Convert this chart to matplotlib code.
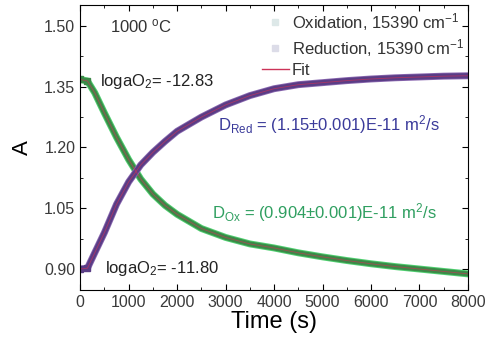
import matplotlib
matplotlib.use("Agg")
import matplotlib.pyplot as plt
from matplotlib.lines import Line2D
from matplotlib.ticker import MultipleLocator

plt.rcParams["font.family"] = ["Liberation Sans", "DejaVu Sans"]
plt.rcParams["mathtext.fontset"] = "custom"
plt.rcParams["mathtext.rm"] = "Liberation Sans"
plt.rcParams["mathtext.it"] = "Liberation Sans:italic"

# values
time_s = [0, 150, 300, 500, 750, 1000, 1250, 1500, 1750, 2000, 2500, 3000,
          3500, 4000, 4500, 5000, 5500, 6000, 6500, 7000, 7500, 8000]
a_reduction = [0.900, 0.902, 0.940, 0.990, 1.060, 1.115, 1.157, 1.188, 1.215,
               1.240, 1.275, 1.305, 1.328, 1.345, 1.355, 1.360, 1.365, 1.369,
               1.372, 1.374, 1.376, 1.377]
a_oxidation = [1.368, 1.364, 1.335, 1.285, 1.225, 1.170, 1.122, 1.085, 1.057,
               1.035, 1.000, 0.978, 0.962, 0.952, 0.940, 0.930, 0.921, 0.913,
               0.906, 0.900, 0.894, 0.888]

c_red = "#5a3d86"
c_ox = "#3b8a48"
c_fit = "#cc3358"

fig = plt.figure(figsize=(4.92, 3.47), dpi=100)
ax = fig.add_axes([0.163, 0.164, 0.788, 0.822])

# measured data (dense points look like a thick band)
ax.plot(time_s, a_oxidation, color="#4fd070", lw=5, solid_joinstyle="round")
ax.plot(time_s, a_oxidation, color=c_ox, lw=3.6, solid_joinstyle="round")
ax.plot(time_s, a_reduction, color="#8a68b0", lw=5, solid_joinstyle="round")
ax.plot(time_s, a_reduction, color=c_red, lw=3.8, solid_joinstyle="round")
ax.plot(time_s[0:2], a_oxidation[0:2], "s", color=c_ox, ms=4)
ax.plot(time_s[0:2], a_reduction[0:2], "s", color=c_red, ms=4)

# fits
ax.plot(time_s, a_oxidation, color=c_fit, lw=0.6, alpha=0.7)
ax.plot(time_s, a_reduction, color=c_fit, lw=0.6, alpha=0.7)

ax.set_xlim(0, 8000)
ax.set_ylim(0.848, 1.552)
ax.xaxis.set_major_locator(MultipleLocator(1000))
ax.xaxis.set_minor_locator(MultipleLocator(500))
ax.yaxis.set_major_locator(MultipleLocator(0.15))
ax.yaxis.set_minor_locator(MultipleLocator(0.075))
ax.yaxis.set_major_formatter(plt.FormatStrFormatter("%.2f"))
ax.tick_params(which="both", direction="in", top=True, right=True,
               labelsize=11.5, labelcolor="#3a3a3a")
ax.tick_params(which="major", length=4)
ax.tick_params(which="minor", length=2.5)

ax.set_xlabel("Time (s)", fontsize=17, labelpad=1)
ax.set_ylabel("A", fontsize=16, labelpad=8)

ax.text(620, 1.50, "1000 $^{\\mathrm{o}}$C", fontsize=12, va="center", color="#333333")
ax.text(410, 1.362, "logaO$_2$= -12.83", fontsize=12, va="center", color="#222222")
ax.text(515, 0.901, "logaO$_2$= -11.80", fontsize=12, va="center", color="#222222")
ax.text(2845, 1.256, "D$_{\\mathrm{Red}}$ = (1.15\u00b10.001)E-11 m$^2$/s",
        fontsize=12, va="center", color="#3a3a9a")
ax.text(2720, 1.040, "D$_{\\mathrm{Ox}}$ = (0.904\u00b10.001)E-11 m$^2$/s",
        fontsize=12, va="center", color="#2f9f60")

handles = [
    Line2D([], [], ls="none", marker="s", ms=4, color="#dde8e8"),
    Line2D([], [], ls="none", marker="s", ms=4, color="#dcdce8"),
    Line2D([], [], color=c_fit, lw=1),
]
labels = ["Oxidation, 15390 cm$^{-1}$", "Reduction, 15390 cm$^{-1}$", "Fit"]
ax.legend(handles, labels, loc="upper right", bbox_to_anchor=(1.02, 1.02),
          frameon=False, fontsize=12, handlelength=1.6, handletextpad=0.2,
          labelspacing=0.25, borderaxespad=0.3, labelcolor="#333333")

fig.savefig("out.png", dpi=100)
